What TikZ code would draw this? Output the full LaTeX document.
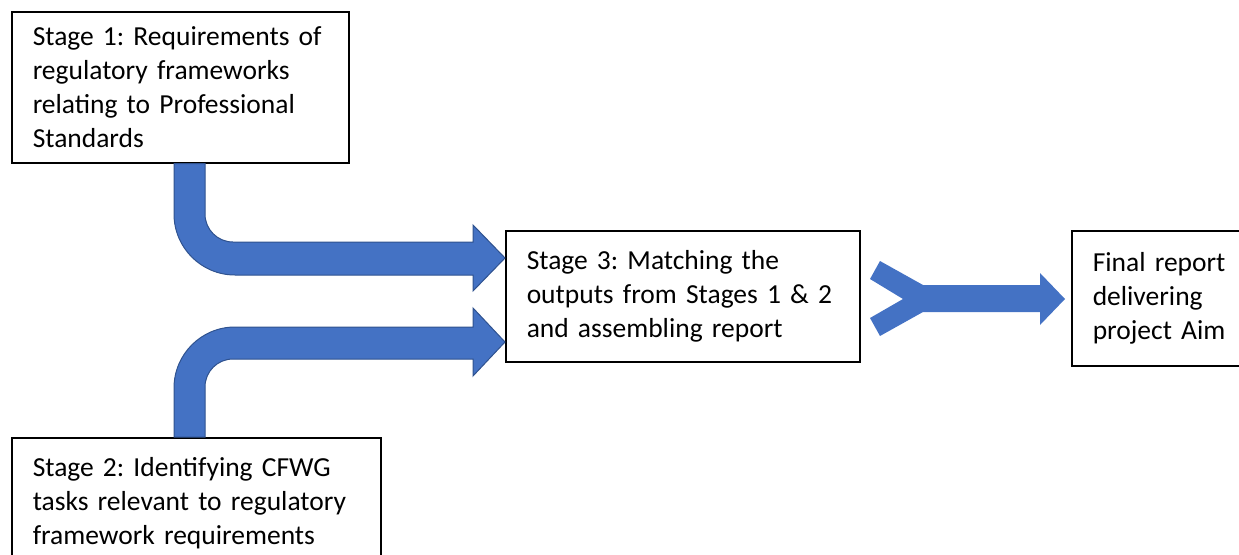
\documentclass[tikz,border=0pt]{standalone}
\usepackage{fontspec}
\setmainfont{Carlito}
\usepackage{tikz}
\usetikzlibrary{calc}
\definecolor{arrowblue}{HTML}{4472C4}
\definecolor{arrowedge}{HTML}{2F528F}
\frenchspacing

\begin{document}
\begin{tikzpicture}[x=1pt,y=-1pt,font=\fontsize{27.5}{34}\selectfont,stagebox/.style={draw=black,line width=1.5pt,fill=white,anchor=north west,align=left,inner xsep=21pt,inner ysep=0pt},blockarrow/.style={fill=arrowblue,draw=arrowedge,line width=1pt,line join=miter}]
\useasboundingbox (0,0) rectangle (1239,554);
\node[stagebox,text width=295pt,minimum height=151pt] (stageone) at (11,11) {Stage 1: Requirements of\\regulatory frameworks\\relating to Professional\\Standards};
\node[stagebox,text width=327pt,minimum height=131pt] (stagetwo) at (11,437) {Stage 2: Identifying CFWG\\tasks relevant to regulatory\\framework requirements};
\node[stagebox,text width=312pt,minimum height=131pt] (stagethree) at (505,230) {Stage 3: Matching the\\outputs from Stages 1 \& 2\\and assembling report};
\node[stagebox,text width=140pt,minimum height=135pt] (final) at (1071,230) {Final report\\delivering\\project Aim};
% bent arrows into stage 3
\draw[blockarrow] (stageone.south -| 174,0) -- (174,214) .. controls (174,247.7) and (201.3,275) .. (235,275) -- (473,275) -- (473,291) -- (stagethree.west |- 0,258) -- (473,225) -- (473,242) -- (233,242) .. controls (217.5,242) and (205,229.5) .. (205,214) -- (stageone.south -| 205,0) -- cycle;
\draw[blockarrow] (stagetwo.north -| 174,0) -- (174,388) .. controls (174,354.3) and (201.3,327) .. (235,327) -- (473,327) -- (473,308) -- (stagethree.west |- 0,342) -- (473,376) -- (473,359) -- (233,359) .. controls (217.5,359) and (205,371.5) .. (205,387) -- (stagetwo.north -| 205,0) -- cycle;
% merge arrow into final report
\fill[arrowblue] (880,261) -- (923,285) -- (1040,285) -- (1040,273) -- (1065,299) -- (1040,325) -- (1040,312) -- (923,312) -- (880,336) -- (870,318) -- (903,299) -- (870,279) -- cycle;
\end{tikzpicture}
\end{document}
